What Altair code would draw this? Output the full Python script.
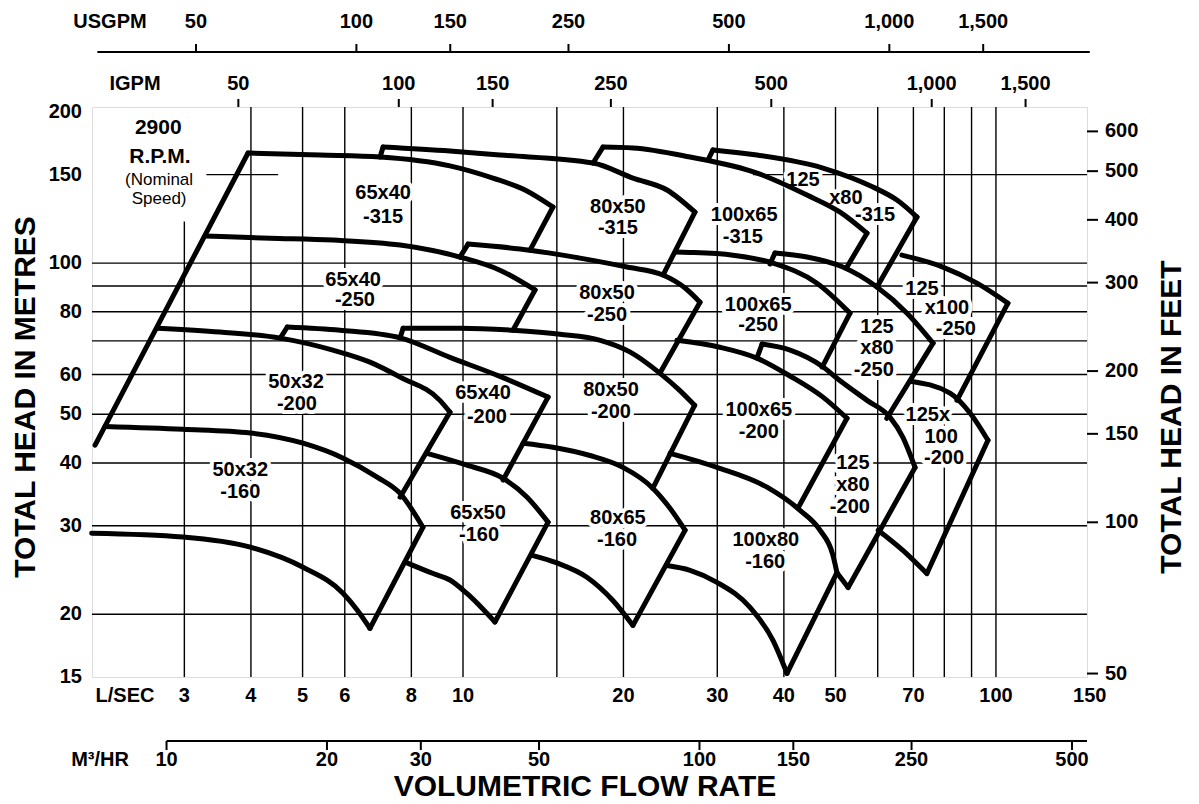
import altair as alt
import pandas as pd

FONT = "Liberation Sans"

# ---------------- axis ticks ----------------
LS_TICKS = [3, 4, 5, 6, 8, 10, 20, 30, 40, 50, 70, 100, 150]
M3H_TICKS = [10, 20, 30, 50, 100, 150, 250, 500]
USGPM_TICKS = [50, 100, 150, 250, 500, 1000, 1500]
IGPM_TICKS = [50, 100, 150, 250, 500, 1000, 1500]
HEAD_M_TICKS = [15, 20, 30, 40, 50, 60, 80, 100, 150, 200]
HEAD_FT_TICKS = [50, 100, 150, 200, 300, 400, 500, 600]

GRID_FLOWS = [4, 5, 6, 8, 10, 15, 20, 30, 40, 50, 60, 70, 80, 90, 100]
GRID_HEADS = [20, 30, 40, 50, 60, 70, 80, 90, 100]

FLOW_DOMAIN = [2.013, 148.2]   # L/s
HEAD_DOMAIN = [15.0, 204.5]    # m

US_PER_LS = 15.8503
IMP_PER_LS = 13.1982
M3H_PER_LS = 3.6
FT_PER_M = 3.28084

# ---------------- pump envelope curves (flow L/s, head m) ----------------
DIAG = [(2.04, 43.4), (3.95, 165.6)]

TOP_50x32_160 = [(2.13, 47.3), (2.98, 46.7), (3.99, 45.9), (5.01, 43.8), (5.96, 40.9), (6.90, 37.5), (7.62, 34.8), (8.41, 29.8)]
BOT_50x32_160 = [(2.01, 29.0), (2.98, 28.5), (3.99, 27.2), (5.01, 24.8), (5.96, 22.0), (6.33, 20.4), (6.69, 18.75)]
RIGHT_50x32_160 = [(8.41, 29.8), (6.69, 18.75)]

TOP_65x50_160 = [(8.56, 41.8), (10.17, 39.6), (11.89, 37.3), (13.19, 34.2), (14.44, 30.5)]
BOT_65x50_160 = [(7.79, 25.4), (8.79, 24.1), (9.45, 23.4), (10.17, 22.0), (11.48, 19.3)]
RIGHT_65x50_160 = [(14.44, 30.5), (11.48, 19.3)]

TOP_80x65_160 = [(12.96, 43.8), (14.75, 43.0), (17.3, 41.4), (19.96, 39.2), (22.73, 35.6), (24.46, 32.5), (26.1, 29.4)]
BOT_80x65_160 = [(13.48, 26.2), (15.01, 25.3), (17.08, 23.7), (19.11, 21.3), (20.84, 19.0)]
RIGHT_80x65_160 = [(26.1, 29.4), (20.84, 19.0)]

TOP_100x80_160 = [(24.46, 41.8), (29.96, 39.2), (37.19, 35.8), (42.89, 32.2), (46.75, 29.4), (49.45, 26.2), (50.31, 24.2)]
BOT_100x80_160 = [(24.14, 25.0), (26.67, 24.46), (29.96, 23.15), (34.56, 20.64), (38.16, 17.74), (40.54, 15.25)]
RIGHT_100x80_160 = [(50.31, 24.2), (40.54, 15.25)]

TOP_50x32_200 = [(2.67, 74.2), (3.50, 72.9), (4.54, 70.9), (5.70, 67.1), (6.69, 63.5), (7.62, 59.3), (9.05, 53.3), (9.45, 50.5)]
RIGHT_50x32_200 = [(9.45, 50.5), (7.62, 34.2)]
STEP_65x40_200 = [(4.54, 70.9), (4.68, 74.6)]
TOP_65x40_200 = [(4.68, 74.6), (5.88, 73.5), (7.62, 71.0), (9.45, 64.9), (11.73, 59.5), (14.44, 54.1)]
RIGHT_65x40_200 = [(14.44, 54.1), (11.89, 37.0)]
STEP_80x50_200 = [(7.62, 71.0), (7.72, 74.2)]
TOP_80x50_200 = [(7.72, 74.2), (9.87, 74.2), (12.4, 73.5), (15.2, 72.2), (18.1, 70.2), (20.6, 66.5), (23.4, 60.4), (25.5, 55.8), (27.2, 52.1)]
RIGHT_80x50_200 = [(27.2, 52.1), (22.7, 35.6)]
TOP_100x65_200 = [(25.2, 70.2), (30.35, 68.0), (35.6, 64.7), (41.07, 59.6), (47.36, 54.1), (52.54, 49.1)]
RIGHT_100x65_200 = [(52.54, 49.1), (42.5, 32.5)]
STEP_125x80_200 = [(35.6, 64.7), (36.4, 69.0)]
TOP_125x80_200 = [(36.4, 69.0), (41.1, 67.1), (47.4, 62.1), (50.3, 59.0), (57.3, 53.3), (63.3, 49.3), (66.9, 45.0), (70.5, 39.2)]
RIGHT_125x80_200 = [(70.5, 39.2), (52.8, 22.6)]
LOW_125x80_200 = [(50.31, 24.2), (52.8, 22.6)]
TOP_125x100_200 = [(69.0, 58.2), (82.0, 55.1), (89.4, 50.3), (96.6, 44.4)]
RIGHT_125x100_200 = [(96.6, 44.4), (74.2, 24.1)]
BOT_125x100_200 = [(60.1, 29.4), (66.9, 26.8), (74.2, 24.1)]

TOP_65x40_250 = [(3.28, 113.2), (4.35, 112.1), (5.70, 111.1), (7.62, 108.6), (9.87, 102.8), (11.73, 96.8), (13.65, 88.4)]
RIGHT_65x40_250 = [(13.65, 88.4), (12.41, 73.5)]
STEP_80x50_250 = [(9.87, 102.8), (10.22, 109.1)]
TOP_80x50_250 = [(10.22, 109.1), (13.36, 106.1), (16.58, 102.3), (20.31, 98.2), (23.73, 94.65), (26.1, 89.2), (27.84, 83.6)]
RIGHT_80x50_250 = [(27.84, 83.6), (23.42, 60.4)]
TOP_100x65_250 = [(25.0, 105.2), (26.67, 105.0), (32.1, 103.7), (38.16, 100.0), (46.15, 91.2), (53.23, 79.5)]
RIGHT_100x65_250 = [(53.23, 79.5), (47.2, 62.1)]
STEP_125x80_250 = [(37.67, 99.6), (38.49, 104.7)]
TOP_125x80_250 = [(38.49, 104.7), (44.2, 102.8), (51.6, 98.2), (59.8, 89.6), (68.1, 79.5), (76.2, 69.3)]
RIGHT_125x80_250 = [(76.2, 69.3), (62.4, 49.1)]
TOP_125x100_250 = [(66.6, 103.7), (79.5, 98.2), (92.1, 91.2), (105.3, 83.2)]
RIGHT_125x100_250 = [(105.3, 83.2), (84.5, 53.3)]

TOP_65x40_315 = [(3.95, 165.6), (5.39, 164.1), (6.99, 162.6), (9.45, 156.1), (11.38, 147.6), (13.07, 139.8), (14.75, 129.3)]
RIGHT_65x40_315 = [(14.75, 129.3), (13.36, 106.1)]
STEP_80x50_315 = [(6.99, 162.6), (7.08, 170.2)]
TOP_80x50_315 = [(7.08, 170.2), (9.45, 167.1), (11.73, 164.1), (17.54, 158.2), (20.84, 147.6), (24.14, 139.8), (27.24, 126.3)]
RIGHT_80x50_315 = [(27.24, 126.3), (23.73, 94.65)]
STEP_100x65_315 = [(17.54, 158.2), (18.31, 170.2)]
TOP_100x65_315 = [(18.31, 170.2), (20.84, 169.5), (26.67, 162.6), (35.62, 151.1), (44.2, 136.6), (51.0, 126.3), (57.28, 114.7)]
RIGHT_100x65_315 = [(57.28, 114.7), (52.54, 98.2)]
STEP_125x80_315 = [(28.82, 160.4), (29.44, 168.0)]
TOP_125x80_315 = [(29.44, 168.0), (35.62, 164.1), (47.36, 154.6), (58.78, 141.7), (65.2, 133.5), (71.09, 123.5)]
RIGHT_125x80_315 = [(71.09, 123.5), (59.81, 89.6)]

CURVES = [
    TOP_50x32_160, BOT_50x32_160, TOP_65x50_160, BOT_65x50_160,
    TOP_80x65_160, BOT_80x65_160, TOP_100x80_160, BOT_100x80_160,
    TOP_50x32_200, TOP_65x40_200, TOP_80x50_200, TOP_100x65_200,
    TOP_125x80_200, TOP_125x100_200, BOT_125x100_200,
    TOP_65x40_250, TOP_80x50_250, TOP_100x65_250, TOP_125x80_250, TOP_125x100_250,
    TOP_65x40_315, TOP_80x50_315, TOP_100x65_315, TOP_125x80_315,
]
EDGES = [
    DIAG, RIGHT_50x32_160, RIGHT_65x50_160, RIGHT_80x65_160, RIGHT_100x80_160,
    RIGHT_50x32_200, STEP_65x40_200, RIGHT_65x40_200, STEP_80x50_200, RIGHT_80x50_200,
    RIGHT_100x65_200, STEP_125x80_200, RIGHT_125x80_200, LOW_125x80_200, RIGHT_125x100_200,
    RIGHT_65x40_250, STEP_80x50_250, RIGHT_80x50_250, RIGHT_100x65_250, STEP_125x80_250,
    RIGHT_125x80_250, RIGHT_125x100_250,
    RIGHT_65x40_315, STEP_80x50_315, RIGHT_80x50_315, STEP_100x65_315, RIGHT_100x65_315,
    STEP_125x80_315, RIGHT_125x80_315,
]

# ---------------- labels (text, flow L/s, head m) ----------------
REGION_LABELS = [
    ("65x40", 7.08, 137.9), ("-315", 7.08, 123.5),
    ("65x40", 6.22, 92.5), ("-250", 6.27, 84.4),
    ("50x32", 4.86, 57.9), ("-200", 4.88, 52.4),
    ("50x32", 3.82, 38.7), ("-160", 3.82, 35.0),
    ("65x50", 10.67, 31.8), ("-160", 10.72, 28.7),
    ("80x65", 19.53, 31.05), ("-160", 19.45, 28.1),
    ("100x80", 37.0, 28.1), ("-160", 36.9, 25.4),
    ("65x40", 10.9, 55.1), ("-200", 11.09, 49.3),
    ("80x50", 18.95, 55.8), ("-200", 18.95, 50.5),
    ("100x65", 35.9, 51.0), ("-200", 35.9, 46.1),
    ("125", 53.9, 40.0), ("x80", 53.9, 36.1), ("-200", 53.2, 32.65),
    ("125x", 74.5, 49.8), ("100", 78.9, 45.0), ("-200", 79.9, 40.9),
    ("80x50", 18.63, 87.2), ("-250", 18.63, 78.8),
    ("100x65", 35.8, 82.5), ("-250", 35.8, 75.2),
    ("125", 59.8, 74.55), ("x80", 59.8, 67.7), ("-250", 59.0, 61.2),
    ("125", 72.65, 89.0), ("x100", 80.9, 81.3), ("-250", 84.1, 73.9),
    ("80x50", 19.53, 129.3), ("-315", 19.53, 117.4),
    ("100x65", 33.7, 124.6), ("-315", 33.5, 112.7),
    ("125", 43.45, 146.3), ("x80", 52.3, 134.7), ("-315", 59.3, 124.6),
]
RPM_BOLD = [("2900", 2.68, 185.5), ("R.P.M.", 2.70, 162.3)]
RPM_NOTE = [("(Nominal", 2.69, 146.6), ("Speed)", 2.69, 134.4)]

# ---------------- build frames ----------------
def seg_frame(segs):
    rows = []
    for s, pts in enumerate(segs):
        for i, (f, h) in enumerate(pts):
            rows.append({"seg": s, "i": i, "flow": f, "head": h})
    return pd.DataFrame(rows)

def lab_frame(rows):
    return pd.DataFrame(rows, columns=["text", "flow", "head"])

XS = alt.Scale(type="log", domain=FLOW_DOMAIN, nice=False)
YS = alt.Scale(type="log", domain=HEAD_DOMAIN, nice=False)

def xq(f):
    return alt.X(f"{f}:Q", scale=XS, axis=None)

def yq(f):
    return alt.Y(f"{f}:Q", scale=YS, axis=None)

vgrid_df = pd.DataFrame(
    [{"flow": f, "h1": HEAD_DOMAIN[0], "h2": HEAD_DOMAIN[1]} for f in GRID_FLOWS]
    + [{"flow": 3, "h1": HEAD_DOMAIN[0], "h2": 121}]
)
hgrid_df = pd.DataFrame(
    [{"head": h, "f1": FLOW_DOMAIN[0], "f2": FLOW_DOMAIN[1]} for h in GRID_HEADS]
    + [{"head": 150, "f1": 35, "f2": FLOW_DOMAIN[1]}, {"head": 150, "f1": 3.3, "f2": 4.5}]
)

vgrid = alt.Chart(vgrid_df).mark_rule(color="black", strokeWidth=1.4).encode(
    x=xq("flow"), y=yq("h1"), y2="h2")
hgrid = alt.Chart(hgrid_df).mark_rule(color="black", strokeWidth=1.4).encode(
    y=yq("head"), x=xq("f1"), x2="f2")

reg_df = lab_frame(REGION_LABELS)
halo = alt.Chart(reg_df).mark_text(
    font=FONT, fontSize=20, fontWeight="bold", color="white",
    stroke="white", strokeWidth=8, strokeJoin="round", baseline="middle"
).encode(x=xq("flow"), y=yq("head"), text="text:N")

curves = alt.Chart(seg_frame(CURVES)).mark_line(
    interpolate="monotone", color="black", strokeWidth=5, strokeCap="round", strokeJoin="round"
).encode(x=xq("flow"), y=yq("head"), detail="seg:N", order="i:Q")
edges = alt.Chart(seg_frame(EDGES)).mark_line(
    color="black", strokeWidth=5, strokeCap="round", strokeJoin="round"
).encode(x=xq("flow"), y=yq("head"), detail="seg:N", order="i:Q")

reg_text = alt.Chart(reg_df).mark_text(
    font=FONT, fontSize=20, fontWeight="bold", color="black", baseline="middle"
).encode(x=xq("flow"), y=yq("head"), text="text:N")
rpm_bold = alt.Chart(lab_frame(RPM_BOLD)).mark_text(
    font=FONT, fontSize=21, fontWeight="bold", color="black", baseline="middle"
).encode(x=xq("flow"), y=yq("head"), text="text:N")
rpm_note = alt.Chart(lab_frame(RPM_NOTE)).mark_text(
    font=FONT, fontSize=17, color="black", baseline="middle"
).encode(x=xq("flow"), y=yq("head"), text="text:N")

lab_style = dict(font=FONT, fontSize=20, fontWeight="bold", color="black", baseline="middle")

# bottom L/s labels
ls_labels = alt.Chart(pd.DataFrame({"v": LS_TICKS})).mark_text(**lab_style).encode(
    x=xq("v"), y=alt.value(589), text="v:Q")
ls_name = alt.Chart(pd.DataFrame({"t": ["L/SEC"]})).mark_text(**lab_style).encode(
    x=alt.value(33), y=alt.value(589), text="t:N")

# m3/h axis
m3_df = pd.DataFrame({"v": M3H_TICKS})
m3_line = alt.Chart(pd.DataFrame({"f1": [M3H_TICKS[0] / M3H_PER_LS], "f2": [FLOW_DOMAIN[1]]})).mark_rule(
    color="black", strokeWidth=2).encode(x=xq("f1"), x2="f2", y=alt.value(634))
m3_ticks = alt.Chart(m3_df).transform_calculate(flow=f"datum.v / {M3H_PER_LS}").mark_rule(
    color="black", strokeWidth=2).encode(x=xq("flow"), y=alt.value(634), y2=alt.value(643))
m3_labels = alt.Chart(m3_df).transform_calculate(flow=f"datum.v / {M3H_PER_LS}").mark_text(**lab_style).encode(
    x=xq("flow"), y=alt.value(653), text="v:Q")
m3_name = alt.Chart(pd.DataFrame({"t": ["M³/HR"]})).mark_text(**lab_style).encode(
    x=alt.value(8), y=alt.value(653), text="t:N")

# USGPM axis
us_df = pd.DataFrame({"v": USGPM_TICKS})
us_line = alt.Chart(pd.DataFrame({"f1": [2.06], "f2": [150.0]})).mark_rule(
    color="black", strokeWidth=2).encode(x=xq("f1"), x2="f2", y=alt.value(-55))
us_ticks = alt.Chart(us_df).transform_calculate(flow=f"datum.v / {US_PER_LS}").mark_rule(
    color="black", strokeWidth=2).encode(x=xq("flow"), y=alt.value(-55), y2=alt.value(-63))
us_labels = alt.Chart(us_df).transform_calculate(flow=f"datum.v / {US_PER_LS}").mark_text(**lab_style).encode(
    x=xq("flow"), y=alt.value(-85), text=alt.Text("v:Q", format=","))
us_name = alt.Chart(pd.DataFrame({"t": ["USGPM"]})).mark_text(**lab_style).encode(
    x=alt.value(18), y=alt.value(-85), text="t:N")

# IGPM axis
ig_df = pd.DataFrame({"v": IGPM_TICKS})
ig_ticks = alt.Chart(ig_df).transform_calculate(flow=f"datum.v / {IMP_PER_LS}").mark_rule(
    color="black", strokeWidth=2).encode(x=xq("flow"), y=alt.value(0), y2=alt.value(-8))
ig_labels = alt.Chart(ig_df).transform_calculate(flow=f"datum.v / {IMP_PER_LS}").mark_text(**lab_style).encode(
    x=xq("flow"), y=alt.value(-23), text=alt.Text("v:Q", format=","))
ig_name = alt.Chart(pd.DataFrame({"t": ["IGPM"]})).mark_text(**lab_style).encode(
    x=alt.value(43), y=alt.value(-23), text="t:N")

# left metres labels
m_labels = alt.Chart(pd.DataFrame({"v": HEAD_M_TICKS})).mark_text(align="right", **lab_style).encode(
    x=alt.value(-10), y=yq("v"), text="v:Q")

# right feet axis
ft_df = pd.DataFrame({"v": HEAD_FT_TICKS})
ft_ticks = alt.Chart(ft_df).transform_calculate(m=f"datum.v / {FT_PER_M}").mark_rule(
    color="black", strokeWidth=2).encode(y=yq("m"), x=alt.value(995), x2=alt.value(1006))
ft_labels = alt.Chart(ft_df).transform_calculate(m=f"datum.v / {FT_PER_M}").mark_text(align="left", **lab_style).encode(
    y=yq("m"), x=alt.value(1013), text="v:Q")

title_style = dict(font=FONT, fontSize=30, fontWeight="bold", color="black", baseline="middle")
t_left = alt.Chart(pd.DataFrame({"t": ["TOTAL HEAD IN METRES"]})).mark_text(angle=270, **title_style).encode(
    x=alt.value(-66), y=alt.value(290), text="t:N")
t_right = alt.Chart(pd.DataFrame({"t": ["TOTAL HEAD IN FEET"]})).mark_text(angle=270, **title_style).encode(
    x=alt.value(1080), y=alt.value(310), text="t:N")
t_bottom = alt.Chart(pd.DataFrame({"t": ["VOLUMETRIC FLOW RATE"]})).mark_text(**title_style).encode(
    x=alt.value(493), y=alt.value(680), text="t:N")

chart = alt.layer(
    vgrid, hgrid, halo, curves, edges, reg_text, rpm_bold, rpm_note,
    ls_labels, ls_name, m3_line, m3_ticks, m3_labels, m3_name,
    us_line, us_ticks, us_labels, us_name, ig_ticks, ig_labels, ig_name,
    m_labels, ft_ticks, ft_labels, t_left, t_right, t_bottom,
).properties(
    width=995, height=570,
    padding={"left": 84, "top": 99, "right": 104, "bottom": 125},
    autosize=alt.AutoSizeParams(type="none"),
).configure_view(stroke="black", strokeWidth=2).configure(background="white")

chart.save("out.html", embed_options={"renderer": "svg", "actions": False})
